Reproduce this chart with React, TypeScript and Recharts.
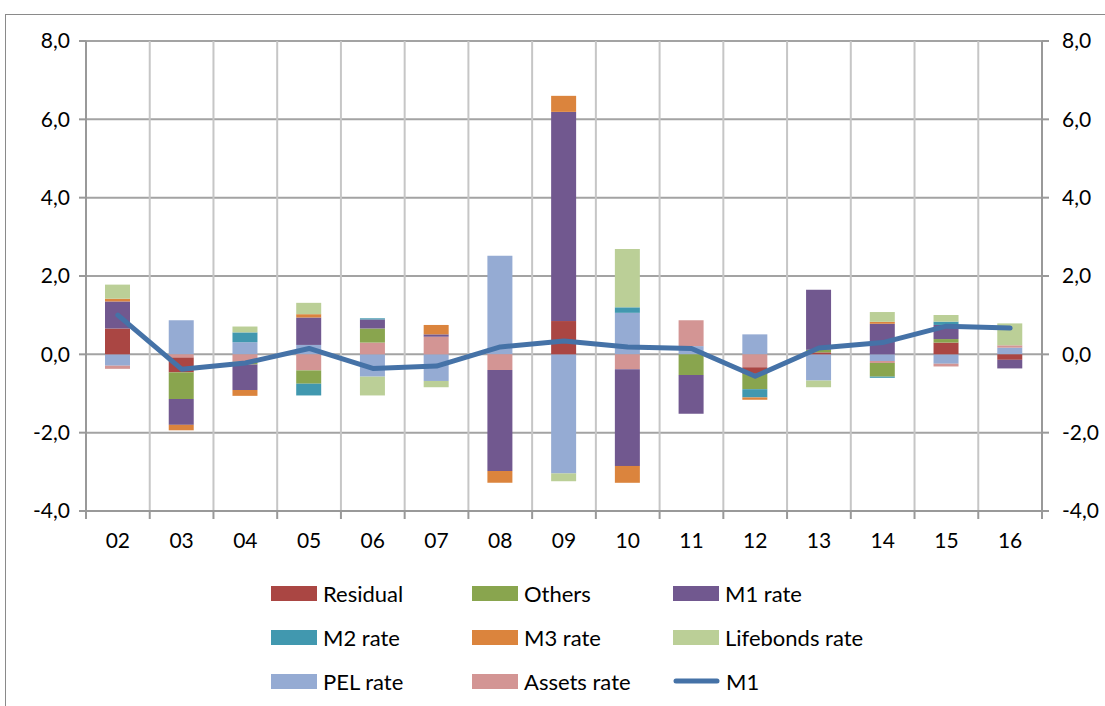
import { ComposedChart, Bar, Line, XAxis, YAxis, CartesianGrid, Legend } from 'recharts'

const years = ['02', '03', '04', '05', '06', '07', '08', '09', '10', '11', '12', '13', '14', '15', '16']

// contributions
const residual = [0.66, -0.38, 0, 0, 0, 0, 0, 0.85, 0, 0, -0.17, 0.05, 0, 0.30, -0.14]
const others = [0, -0.68, -0.07, -0.34, 0.36, 0, 0, 0, 0, -0.53, -0.39, 0.07, -0.35, 0.09, 0]
const m1Rate = [0.69, -0.66, -0.65, 0.70, 0.23, 0.06, -2.58, 5.34, -2.47, -0.99, 0, 1.53, 0.78, 0.36, -0.22]
const m2Rate = [0, 0, 0.25, -0.30, 0.03, 0, 0, 0, 0.14, 0, -0.21, 0, -0.03, 0.085, 0]
const m3Rate = [0.07, -0.14, -0.15, 0.085, 0, 0.24, -0.30, 0.41, -0.43, 0, -0.06, 0, 0.05, 0, 0]
const lifebondsRate = [0.36, 0, 0.15, 0.29, -0.48, -0.16, 0, -0.20, 1.49, 0, 0, -0.17, 0.25, 0.17, 0.56]
const pelRate = [-0.29, 0.87, 0.31, 0.24, -0.57, -0.68, 2.52, -3.04, 1.06, 0.21, 0.51, -0.67, -0.17, -0.24, 0.17]
const assetsRate = [-0.08, -0.08, -0.19, -0.41, 0.30, 0.45, -0.40, 0, -0.38, 0.66, -0.33, 0, -0.05, -0.07, 0.06]
const m1 = [1.0, -0.38, -0.22, 0.15, -0.36, -0.30, 0.19, 0.34, 0.19, 0.15, -0.56, 0.16, 0.30, 0.72, 0.67]

const yTicks = [-4, -2, 0, 2, 4, 6, 8]

// stacking order as excel drew it
const stacked = [
  { name: 'PEL rate', values: pelRate, color: '#95ABD3' },
  { name: 'Assets rate', values: assetsRate, color: '#D39594' },
  { name: 'Residual', values: residual, color: '#AA4643' },
  { name: 'Others', values: others, color: '#89A54E' },
  { name: 'M1 rate', values: m1Rate, color: '#71588F' },
  { name: 'M2 rate', values: m2Rate, color: '#4198AF' },
  { name: 'M3 rate', values: m3Rate, color: '#DB843D' },
  { name: 'Lifebonds rate', values: lifebondsRate, color: '#BBCF97' },
]
const lineColor = '#4572A7'

const legendOrder = ['Residual', 'Others', 'M1 rate', 'M2 rate', 'M3 rate', 'Lifebonds rate', 'PEL rate', 'Assets rate', 'M1']

const data = years.map((y, i) => {
  const row: any = { year: y, M1: m1[i] }
  stacked.forEach(s => { row[s.name] = s.values[i] })
  return row
})

const fmt = (v: number) => v.toFixed(1).replace('.', ',')
const FONT = 'Lato, "Open Sans", sans-serif'

const XTick = (props: any) => {
  const { x, y, payload, index } = props
  const half = (props.width ?? 956) / years.length / 2
  return (
    <g>
      <line x1={x - half} x2={x - half} y1={y} y2={y + 8} stroke="#999" strokeWidth={2} />
      {index === years.length - 1 && (
        <line x1={x + half} x2={x + half} y1={y} y2={y + 8} stroke="#999" strokeWidth={2} />
      )}
      <text x={x} y={y + 37} textAnchor="middle" fontFamily={FONT} fontSize={21} fill="#000">{payload.value}</text>
    </g>
  )
}

const LegendBox = () => {
  const colorOf = (n: string) => stacked.find(s => s.name === n)?.color ?? lineColor
  return (
    <div style={{ position: 'relative', width: 1105, height: 120, fontFamily: FONT, fontSize: 22 }}>
      {legendOrder.map((n, i) => {
        const col = i % 3, row = Math.floor(i / 3)
        const left = 271 + col * 201, top = row * 44
        return (
          <div key={n} style={{ position: 'absolute', left, top, height: 30, display: 'flex', alignItems: 'center', whiteSpace: 'nowrap' }}>
            {n === 'M1'
              ? <svg width={47} height={16}><line x1={3} x2={44} y1={8} y2={8} stroke={lineColor} strokeWidth={5} strokeLinecap="round" /></svg>
              : <span style={{ display: 'inline-block', width: 46, height: 15, background: colorOf(n) }} />}
            <span style={{ marginLeft: 6 }}>{n}</span>
          </div>
        )
      })}
    </div>
  )
}

export default function App() {
  return (
    <div style={{ position: 'absolute', left: 0, top: 0, width: 1105, height: 706, background: '#fff', overflow: 'hidden' }}>
      <div style={{ position: 'absolute', left: 5, top: 14, width: 1200, height: 800, borderLeft: '1.5px solid #8a8a8a', borderTop: '1.5px solid #8a8a8a' }} />
      <ComposedChart width={1105} height={706} data={data} stackOffset="sign" barSize={25}
        margin={{ top: 41, right: 0, left: 0, bottom: 135 }}>
        <CartesianGrid yAxisId="left" vertical={false} stroke="#a3a3a3" strokeWidth={2} />
        <CartesianGrid yAxisId="left" horizontal={false} stroke="#c6c6c6" strokeWidth={2}
          verticalCoordinatesGenerator={({ offset }: any) =>
            years.map((_, i) => offset.left + (i * offset.width) / years.length).slice(1)} />
        <XAxis dataKey="year" height={60} tickLine={false} tickSize={0} tickMargin={0} interval={0}
          axisLine={{ stroke: '#999', strokeWidth: 2 }} tick={<XTick />} />
        <YAxis yAxisId="left" width={86} domain={[-4, 8]} ticks={yTicks} tickFormatter={fmt}
          tickSize={7} tickMargin={9} axisLine={{ stroke: '#999', strokeWidth: 2 }} tickLine={{ stroke: '#999', strokeWidth: 2 }}
          tick={{ fontFamily: FONT, fontSize: 21, fill: '#000' }} allowDataOverflow />
        <YAxis yAxisId="right" orientation="right" width={63} domain={[-4, 8]} ticks={yTicks} tickFormatter={fmt}
          tickSize={7} tickMargin={13} axisLine={{ stroke: '#999', strokeWidth: 2 }} tickLine={{ stroke: '#999', strokeWidth: 2 }}
          tick={{ fontFamily: FONT, fontSize: 21, fill: '#000', textAnchor: 'start' }} allowDataOverflow />
        {stacked.map(s => (
          <Bar key={s.name} yAxisId="left" dataKey={s.name} stackId="a" fill={s.color} isAnimationActive={false} />
        ))}
        <Line yAxisId="right" dataKey="M1" stroke={lineColor} strokeWidth={5} dot={false}
          strokeLinecap="round" strokeLinejoin="round" isAnimationActive={false} />
        <Legend layout="horizontal" verticalAlign="middle" align="center"
          wrapperStyle={{ top: 578, left: 0, width: 1105 }} content={<LegendBox />} />
      </ComposedChart>
    </div>
  )
}
